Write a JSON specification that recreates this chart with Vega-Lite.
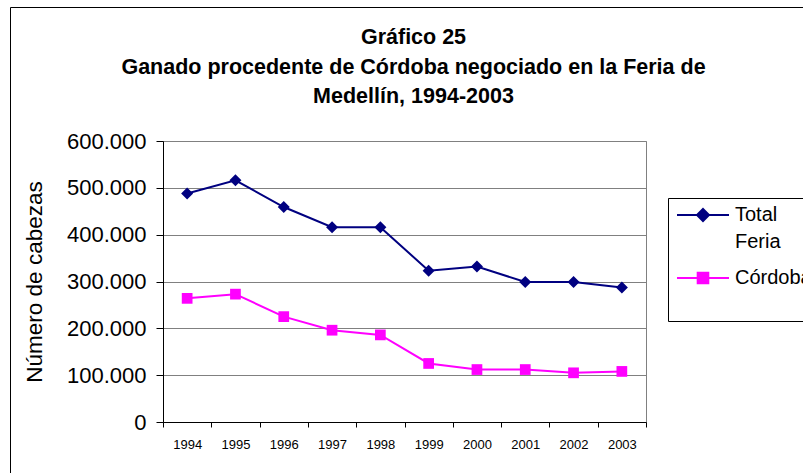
{
  "$schema": "https://vega.github.io/schema/vega-lite/v6.json",
  "width": 483,
  "height": 281,
  "autosize": {"type": "none"},
  "padding": {"left": 163, "top": 141, "right": 157, "bottom": 51},
  "background": "white",
  "config": {
    "font": "Liberation Sans",
    "view": {"stroke": "#808080", "strokeWidth": 1}
  },
  "title": {
    "text": ["Gráfico 25", "Ganado procedente de Córdoba negociado en la Feria de", "Medellín, 1994-2003"],
    "font": "Liberation Sans",
    "fontSize": 21.5,
    "fontWeight": "bold",
    "lineHeight": 29.5,
    "color": "black",
    "anchor": "middle",
    "dx": 9,
    "offset": -101
  },
  "data": {
    "values": [
      {"year": "1994", "serie": "Total Feria", "value": 488000},
      {"year": "1995", "serie": "Total Feria", "value": 516000},
      {"year": "1996", "serie": "Total Feria", "value": 459000},
      {"year": "1997", "serie": "Total Feria", "value": 416000},
      {"year": "1998", "serie": "Total Feria", "value": 416000},
      {"year": "1999", "serie": "Total Feria", "value": 323000},
      {"year": "2000", "serie": "Total Feria", "value": 332000},
      {"year": "2001", "serie": "Total Feria", "value": 299000},
      {"year": "2002", "serie": "Total Feria", "value": 299000},
      {"year": "2003", "serie": "Total Feria", "value": 287000},
      {"year": "1994", "serie": "Córdoba", "value": 264000},
      {"year": "1995", "serie": "Córdoba", "value": 273000},
      {"year": "1996", "serie": "Córdoba", "value": 225000},
      {"year": "1997", "serie": "Córdoba", "value": 196000},
      {"year": "1998", "serie": "Córdoba", "value": 186000},
      {"year": "1999", "serie": "Córdoba", "value": 125000},
      {"year": "2000", "serie": "Córdoba", "value": 112000},
      {"year": "2001", "serie": "Córdoba", "value": 112000},
      {"year": "2002", "serie": "Córdoba", "value": 105000},
      {"year": "2003", "serie": "Córdoba", "value": 108000}
    ]
  },
  "encoding": {
    "x": {
      "field": "year",
      "type": "ordinal",
      "scale": {"type": "band", "paddingInner": 0, "paddingOuter": 0},
      "axis": {
        "title": null,
        "labelAngle": 0,
        "tickBand": "extent",
        "tickSize": 5,
        "tickColor": "black",
        "domainColor": "black",
        "labelFontSize": 13,
        "labelPadding": 11,
        "labelColor": "black",
        "grid": false
      }
    },
    "y": {
      "field": "value",
      "type": "quantitative",
      "scale": {"domain": [0, 600000], "nice": false},
      "axis": {
        "values": [0, 100000, 200000, 300000, 400000, 500000, 600000],
        "labelExpr": "replace(format(datum.value, ','), ',', '.')",
        "title": "Número de cabezas",
        "titleFontSize": 22.5,
        "titleFontWeight": "normal",
        "titleColor": "black",
        "titlePadding": 20,
        "labelFontSize": 22,
        "labelPadding": 10,
        "labelColor": "black",
        "tickSize": 7,
        "tickColor": "black",
        "domainColor": "black",
        "gridColor": "#808080",
        "gridOpacity": 1
      }
    },
    "color": {
      "field": "serie",
      "type": "nominal",
      "scale": {"domain": ["Total Feria", "Córdoba"], "range": ["#000080", "#FF00FF"]},
      "legend": {
        "orient": "none",
        "legendX": 505,
        "legendY": 57,
        "title": null,
        "strokeColor": "black",
        "fillColor": "white",
        "padding": 6,
        "labelFontSize": 20,
        "labelColor": "black",
        "labelLimit": 300,
        "symbolSize": 400,
        "symbolStrokeWidth": 2,
        "labelOffset": 39,
        "rowPadding": 15,
        "labelBaseline": "top",
        "labelExpr": "datum.label == 'Total Feria' ? ['Total', 'Feria'] : ['Córdoba', ' ']",
        "encode": {
          "symbols": {
            "update": {
              "shape": {"signal": "datum.value == 'Total Feria' ? 'M-0.8,0L4.4,0M1.8,-0.6L2.4,0L1.8,0.6L1.2,0Z' : 'M-0.8,0L4.4,0M1.27,-0.53L2.33,-0.53L2.33,0.53L1.27,0.53Z'"},
              "fill": {"signal": "scale('color', datum.value)"},
              "stroke": {"signal": "scale('color', datum.value)"},
              "strokeWidth": {"value": 2},
              "opacity": {"value": 1},
              "strokeOpacity": {"value": 1},
              "fillOpacity": {"value": 1}
            }
          },
          "labels": {
            "update": {
              "lineHeight": {"value": 27},
              "dy": {"value": -10}
            }
          }
        }
      }
    }
  },
  "layer": [
    {
      "mark": {"type": "line", "strokeWidth": 2}
    },
    {
      "transform": [{"filter": "datum.serie == 'Total Feria'"}],
      "mark": {"type": "point", "filled": true, "opacity": 1, "shape": "diamond", "size": 144}
    },
    {
      "transform": [{"filter": "datum.serie == 'Córdoba'"}],
      "mark": {"type": "point", "filled": true, "opacity": 1, "shape": "square", "size": 115}
    },
    {
      "mark": {"type": "point", "filled": true},
      "encoding": {
        "color": {"value": "transparent"},
        "opacity": {
          "field": "year",
          "type": "ordinal",
          "scale": {"range": [0, 0]},
          "legend": {
            "orient": "none",
            "legendX": -153,
            "legendY": -134,
            "title": null,
            "padding": 900,
            "strokeColor": "black",
            "fillColor": "transparent",
            "encode": {"legend": {"update": {"strokeWidth": {"value": 2}}}}
          }
        }
      }
    }
  ]
}
